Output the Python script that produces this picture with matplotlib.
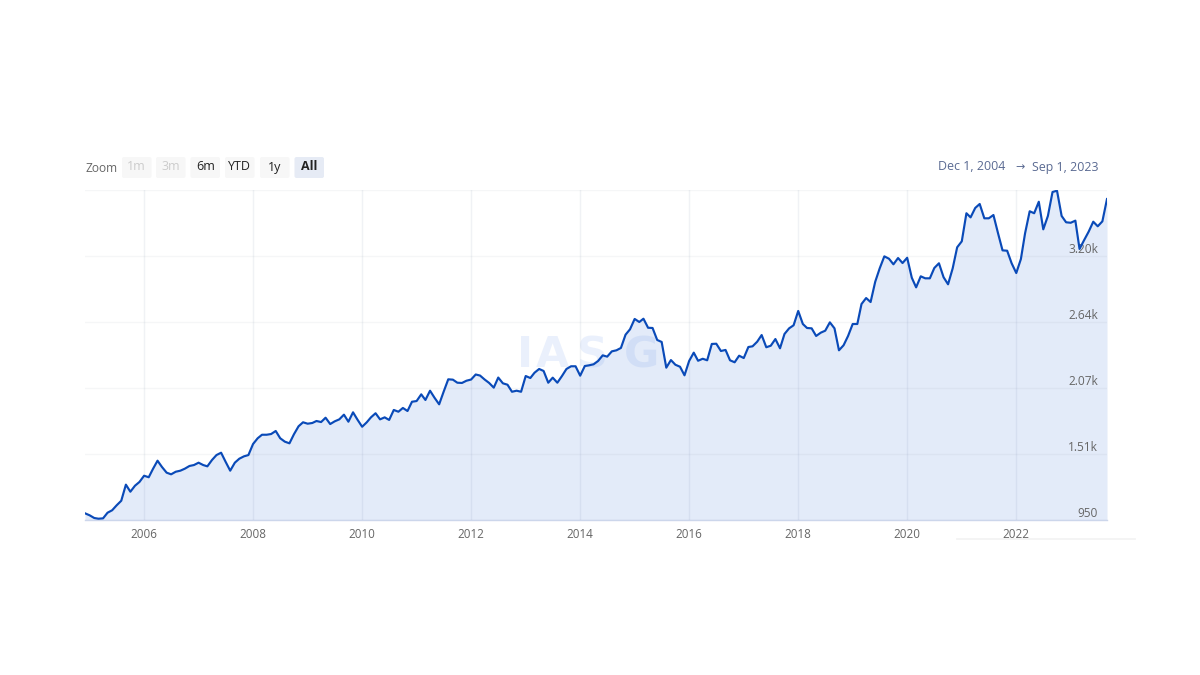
import matplotlib
matplotlib.use("Agg")
import matplotlib.pyplot as plt
import matplotlib.dates as mdates
from matplotlib.patches import FancyBboxPatch
from matplotlib.lines import Line2D
from matplotlib.transforms import Affine2D
import pandas as pd

plt.rcParams['font.family'] = ['Open Sans', 'DejaVu Sans']

start_month = "2004-12-01"
end_month = "2023-09-01"
values = [
 1007, 990, 967, 961, 964, 1012, 1033, 1075, 1114, 1251, 1191, 1242, 1274,
 1327, 1314, 1384, 1455, 1401, 1353, 1339, 1361, 1370, 1387, 1410, 1418, 1438,
 1418, 1407, 1461, 1503, 1523, 1446, 1370, 1438, 1472, 1492, 1503,
 1597, 1646, 1676, 1676, 1682, 1708, 1646, 1617, 1603, 1680, 1748, 1782,
 1770, 1776, 1793, 1784, 1821, 1767, 1790, 1807, 1847, 1787, 1867, 1804,
 1744, 1782, 1824, 1859, 1807, 1824, 1802, 1887, 1872, 1904, 1878, 1957,
 1963, 2020, 1972, 2051, 1991, 1935, 2042, 2148, 2145, 2119, 2117, 2136,
 2146, 2189, 2180, 2146, 2117, 2077, 2163, 2114, 2102, 2042, 2051, 2042,
 2176, 2159, 2204, 2236, 2219, 2119, 2162, 2119, 2176, 2236, 2259, 2259,
 2179, 2261, 2267, 2276, 2304, 2352, 2341, 2386, 2395, 2415, 2528, 2574,
 2662, 2636, 2664, 2587, 2585, 2483, 2466, 2247, 2312, 2272, 2255, 2182,
 2304, 2375, 2306, 2323, 2310, 2449, 2451, 2389, 2398, 2310, 2293, 2349,
 2329, 2423, 2429, 2468, 2525, 2421, 2434, 2491, 2412, 2534, 2582, 2608,
 2730, 2619, 2585, 2582, 2517, 2545, 2562, 2633, 2582, 2395, 2438, 2517,
 2619, 2619, 2789, 2840, 2806, 2979, 3093, 3195, 3175, 3127, 3181, 3138,
 3183, 3013, 2931, 3025, 3008, 3008, 3096, 3136, 3017, 2957, 3093, 3272,
 3323, 3562, 3527, 3607, 3641, 3519, 3519, 3547, 3391, 3246, 3243, 3136,
 3053, 3172, 3391, 3579, 3562, 3660, 3425, 3539, 3743, 3754, 3539, 3485,
 3481, 3499, 3258, 3334, 3405, 3490, 3451, 3493, 3683,
]
y_ticks = [950, 1510, 2070, 2640, 3200, 3760]
y_tick_labels = ["950", "1.51k", "2.07k", "2.64k", "3.20k", ""]
year_ticks = [2006, 2008, 2010, 2012, 2014, 2016, 2018, 2020, 2022]
zoom_buttons = ["1m", "3m", "6m", "YTD", "1y", "All"]

dates = pd.date_range(start_month, end_month, freq="MS")

LINE = "#0a4ab8"
FILL = "#e3ebf9"
TEXT = "#666666"

W, H = 1200, 675
fig = plt.figure(figsize=(12, 6.75), dpi=100, facecolor="white")
ax = fig.add_axes([85 / W, (H - 520) / H, (1107 - 85) / W, 330 / H])
px = Affine2D().scale(1, -1).translate(0, H)

ax.fill_between(dates, values, y_ticks[0], color=FILL, lw=0, zorder=1)
ax.plot(dates, values, color=LINE, lw=1.55, zorder=4, solid_joinstyle="round")
ax.set_xlim(dates[0], dates[-1])
ax.set_ylim(y_ticks[0], y_ticks[-1])

ax.set_xticks([pd.Timestamp(f"{y}-01-01") for y in year_ticks])
ax.xaxis.set_major_formatter(mdates.DateFormatter("%Y"))
ax.set_yticks(y_ticks)
ax.set_yticklabels(y_tick_labels)
ax.set_axisbelow(False)
ax.grid(True, axis="x", color="#5a6f96", alpha=0.09, lw=1, zorder=2)
ax.grid(True, axis="y", color="#606a80", alpha=0.06, lw=1, zorder=2)
for s in ("top", "left", "right"):
    ax.spines[s].set_visible(False)
ax.spines["bottom"].set_color("#ccd6eb")
ax.spines["bottom"].set_linewidth(1)
ax.tick_params(axis="x", length=0, pad=6, labelsize=8.4, labelcolor=TEXT)
ax.tick_params(axis="y", length=0, left=False, right=False, labelleft=False,
               labelright=True, pad=-6.5, labelsize=8.6, labelcolor=TEXT)
for lab in ax.get_yticklabels():
    lab.set_ha("right")
    lab.set_va("bottom")
    lab.set_zorder(6)

# pale watermark behind the line
for ch, cx in zip("IASG", (525, 552, 592, 641)):
    ax.text(cx, 355, ch, transform=px, fontsize=31, fontweight="bold", family="DejaVu Sans",
            color="#2060e0", alpha=0.09, ha="center", va="center", zorder=3, clip_on=False)

# range selector
fig.text(85, 168, "Zoom", transform=px, fontsize=8.6, color="#666666", ha="left", va="center")
lefts = [122, 156, 190.5, 225, 260, 294.5]
width = 29.5
for label, x0 in zip(zoom_buttons, lefts):
    active = label == "All"
    disabled = label in ("1m", "3m")
    bg = "#e6ebf5" if active else "#f7f7f7"
    col = "#cccccc" if disabled else "#222222"
    fig.add_artist(FancyBboxPatch((x0 + 2, 159), width - 4, 17, transform=px,
                                  boxstyle="round,pad=2", fc=bg, ec="none"))
    fig.text(x0 + width / 2, 167, label, transform=px, fontsize=9, color=col,
             ha="center", va="center", fontweight="bold" if active else "normal")

date_col = "#5a6a92"
fig.text(1005, 167, "Dec 1, 2004", transform=px, fontsize=8.9, color=date_col, ha="right", va="center")
fig.text(1020, 167, "→", transform=px, fontsize=8, color=date_col, ha="center", va="center", family="DejaVu Sans")
fig.text(1098, 167, "Sep 1, 2023", transform=px, fontsize=8.9, color=date_col, ha="right", va="center")

# faint rule under the lower right
fig.add_artist(Line2D([957, 1135], [538.5, 538.5], transform=px, color="#f2f2f2", lw=1.2))

fig.savefig("out.png", dpi=100)
